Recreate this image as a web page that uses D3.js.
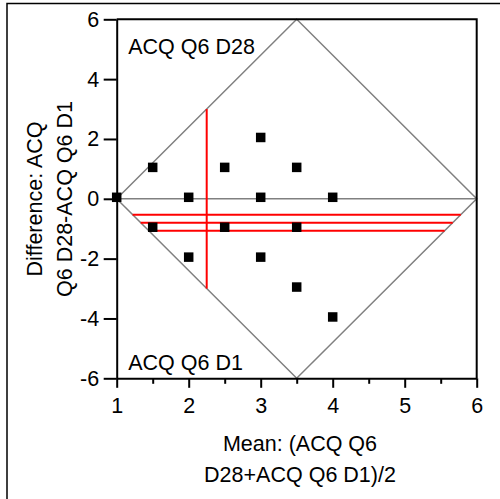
<!DOCTYPE html>
<html>
<head>
<meta charset="utf-8">
<script src="https://cdn.jsdelivr.net/npm/d3@7"></script>
<style>
  body { margin: 0; background: #fff; }
  svg { display: block; font-family: "Liberation Sans", Arial, sans-serif; }
</style>
</head>
<body>
<div id="chart"></div>
<script>
// data
var meanVals = [1, 1.5, 1.5, 2, 2, 2.5, 2.5, 3, 3, 3, 3.5, 3.5, 3.5, 4, 4];
var diffVals = [0, 1, -1, 0, -2, 1, -1, 2, 0, -2, 1, -1, -3, 0, -4];
var biasLines = [-0.53, -0.8, -1.07];
var refMean = 2.25;
var refRange = [-3, 3];
var diamondX = [1, 3.5, 6, 3.5, 1];
var diamondY = [0, 6, 0, -6, 0];
var xTicks = [1, 2, 3, 4, 5, 6];
var xMinor = [1.5, 2.5, 3.5, 4.5, 5.5];
var yTicks = [-6, -4, -2, 0, 2, 4, 6];

var width = 500;
var height = 499;
var margin = {top: 19.3, right: 23.3, bottom: 120.7, left: 116.7};
var innerWidth = width - margin.left - margin.right;
var innerHeight = height - margin.top - margin.bottom;
var fontSize = 21.5;

var svg = d3.select("#chart").append("svg")
  .attr("width", width)
  .attr("height", height);

// outer frame (top and left only)
svg.append("path")
  .attr("d", "M7,499V3.5H500")
  .attr("fill", "none")
  .attr("stroke", "#000")
  .attr("stroke-width", 1.5);

var g = svg.append("g")
  .attr("transform", "translate(" + margin.left + "," + margin.top + ")");

var x = d3.scaleLinear().domain([1, 6]).range([0, innerWidth]);
var y = d3.scaleLinear().domain([-6, 6]).range([innerHeight, 0]);

// diamond limits
var pts = diamondX.map(function(d, i) { return [d, diamondY[i]]; });
g.append("path")
  .attr("d", d3.line().x(function(d) { return x(d[0]); }).y(function(d) { return y(d[1]); })(pts))
  .attr("fill", "none")
  .attr("stroke", "#808080")
  .attr("stroke-width", 1.5);

// zero line
g.append("line")
  .attr("x1", x(1)).attr("x2", x(6))
  .attr("y1", y(0)).attr("y2", y(0))
  .attr("stroke", "#808080")
  .attr("stroke-width", 1.5);

// bias + limits, clipped to the diamond width at that level
var halfW = (diamondX[2] - diamondX[0]) / 2;
var halfH = diamondY[1];
g.selectAll(".bias")
  .data(biasLines)
  .enter().append("line")
  .attr("class", "bias")
  .attr("x1", function(d) { return x(diamondX[0] + Math.abs(d) / halfH * halfW); })
  .attr("x2", function(d) { return x(diamondX[2] - Math.abs(d) / halfH * halfW); })
  .attr("y1", function(d) { return y(d); })
  .attr("y2", function(d) { return y(d); })
  .attr("stroke", "#ff0000")
  .attr("stroke-width", 2);

g.append("line")
  .attr("x1", x(refMean)).attr("x2", x(refMean))
  .attr("y1", y(refRange[1])).attr("y2", y(refRange[0]))
  .attr("stroke", "#ff0000")
  .attr("stroke-width", 2);

// points
var sq = 9.5;
g.selectAll(".pt")
  .data(meanVals)
  .enter().append("rect")
  .attr("class", "pt")
  .attr("x", function(d) { return x(d) - sq / 2; })
  .attr("y", function(d, i) { return y(diffVals[i]) - sq / 2 - 1.5; })
  .attr("width", sq)
  .attr("height", sq)
  .attr("fill", "#000");

// frame top + right
g.append("path")
  .attr("d", "M0,0H" + innerWidth + "V" + innerHeight)
  .attr("fill", "none")
  .attr("stroke", "#000")
  .attr("stroke-width", 2);

// axes
g.append("g")
  .attr("transform", "translate(0," + innerHeight + ")")
  .call(d3.axisBottom(x).tickValues(xTicks).tickFormat(d3.format("d")).tickSize(9.5).tickPadding(9.5).tickSizeOuter(0));
var minor = g.append("g")
  .attr("transform", "translate(0," + innerHeight + ")")
  .call(d3.axisBottom(x).tickValues(xMinor).tickSize(5.5).tickSizeOuter(0));
minor.select(".domain").remove();
minor.selectAll(".tick text").remove();

var yAxis = g.append("g")
  .call(d3.axisLeft(y).tickValues(yTicks).tickFormat(d3.format("d")).tickSize(13).tickPadding(4.5).tickSizeOuter(0));

g.selectAll(".tick line, .domain")
  .attr("stroke", "#000")
  .attr("stroke-width", 2);
g.selectAll(".tick text")
  .attr("font-size", fontSize)
  .attr("font-family", "Liberation Sans, Arial, sans-serif")
  .attr("fill", "#000");
yAxis.selectAll(".tick text").text(function(d) { return d < 0 ? "-" + Math.abs(d) : d; });

// corner labels
g.append("text")
  .attr("x", 11.5).attr("y", 35)
  .attr("font-size", fontSize)
  .text("ACQ Q6 D28");
g.append("text")
  .attr("x", 11.5).attr("y", innerHeight - 8.5)
  .attr("font-size", fontSize)
  .text("ACQ Q6 D1");

// axis titles
var xTitle = svg.append("text")
  .attr("text-anchor", "middle")
  .attr("font-size", fontSize);
xTitle.append("tspan").attr("x", 300).attr("y", 451).text("Mean: (ACQ Q6");
xTitle.append("tspan").attr("x", 300).attr("y", 481.5).text("D28+ACQ Q6 D1)/2");

var yTitle = svg.append("text")
  .attr("text-anchor", "middle")
  .attr("font-size", fontSize)
  .attr("transform", "rotate(-90)");
yTitle.append("tspan").attr("x", -199).attr("y", 41.5).text("Difference: ACQ");
yTitle.append("tspan").attr("x", -199).attr("y", 71.5).text("Q6 D28-ACQ Q6 D1");
</script>
</body>
</html>
